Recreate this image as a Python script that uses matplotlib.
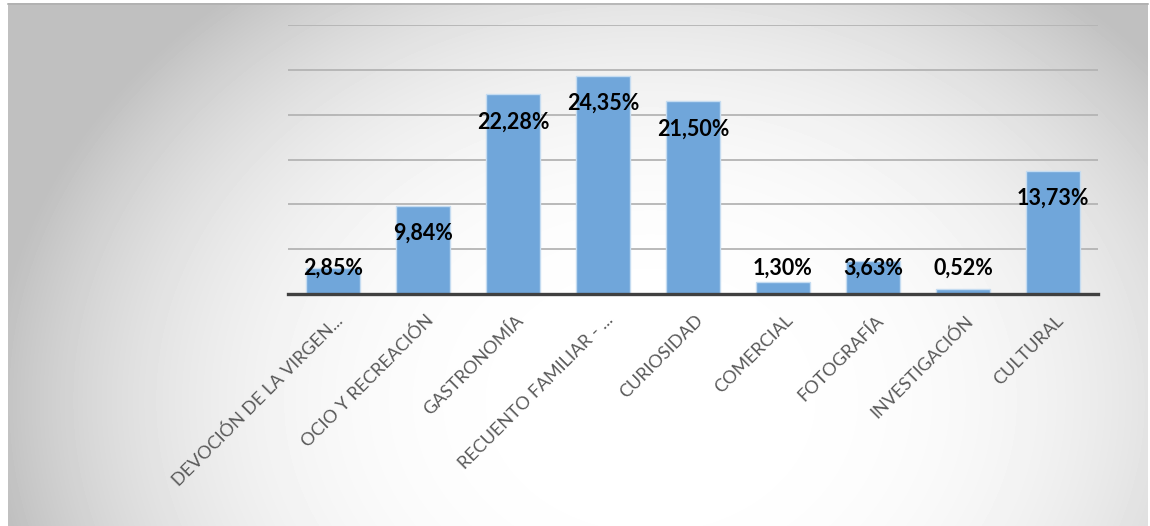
import matplotlib
matplotlib.use('Agg')
import matplotlib.pyplot as plt
import matplotlib.transforms as mtransforms
import numpy as np

categories = ["DEVOCIÓN DE LA VIRGEN...", "OCIO Y RECREACIÓN", "GASTRONOMÍA",
              "RECUENTO FAMILIAR - ...", "CURIOSIDAD", "COMERCIAL", "FOTOGRAFÍA",
              "INVESTIGACIÓN", "CULTURAL"]
values = [2.85, 9.84, 22.28, 24.35, 21.50, 1.30, 3.63, 0.52, 13.73]
grid_ticks = [5, 10, 15, 20, 25, 30]

plt.rcParams['font.family'] = ['Lato', 'DejaVu Sans']

W, H = 1150, 526
fig = plt.figure(figsize=(W / 100, H / 100), dpi=100)
fig.patch.set_facecolor('white')

# fondo con degradado radial (gris en los bordes, blanco en el centro)
bg = fig.add_axes([0, 0, 1, 1])
bx0, bx1, by0, by1 = 8, 1148, 3, 526
xx, yy = np.meshgrid(np.arange(bx0, bx1), np.arange(by0, by1))
cx, cy = 650, 400
d = np.sqrt(((xx - cx) / 650) ** 2 + ((yy - cy) / 520) ** 2)
g = np.clip(1.0 - 0.24 * d ** 3, 0.75, 1.0)
bg.imshow(g, cmap='gray', vmin=0, vmax=1, extent=(bx0, bx1, by1, by0),
          aspect='auto', interpolation='bilinear')
bg.plot([bx0, bx1], [by0 + 0.5, by0 + 0.5], color='#b0b0b0', lw=1.2)
bg.set_xlim(0, W)
bg.set_ylim(H, 0)
bg.axis('off')

ax = fig.add_axes([288 / W, 1 - 294 / H, 810 / W, 269 / H])
ax.patch.set_alpha(0)
x = np.arange(len(categories))
ax.bar(x, values, width=0.6, color='#70a6da', edgecolor='#c5dcf1', linewidth=1, zorder=3)
ax.set_xlim(-0.5, len(categories) - 0.5)
ax.set_ylim(0, 30)
ax.set_yticks(grid_ticks)
ax.yaxis.grid(True, color='#b4b4b4', linewidth=1.3, zorder=0)
ax.tick_params(axis='y', length=0, labelleft=False)
ax.tick_params(axis='x', length=0, pad=13)
for s in ['top', 'right', 'left']:
    ax.spines[s].set_visible(False)
ax.spines['bottom'].set_color('#404040')
ax.spines['bottom'].set_linewidth(2.4)
ax.spines['bottom'].set_zorder(4)

ax.set_xticks(x)
ax.set_xticklabels(categories, rotation=45, ha='right', va='top', rotation_mode='anchor',
                   fontsize=13, color='#595959')
shift = mtransforms.ScaledTranslation(2 / 100, 0, fig.dpi_scale_trans)
for lbl in ax.get_xticklabels():
    lbl.set_transform(lbl.get_transform() + shift)

for xi, v in zip(x, values):
    ax.text(xi, max(v - 3.1, 2.9), f"{v:.2f}%".replace('.', ','), ha='center', va='center',
            fontsize=15.5, fontweight='bold', color='black', zorder=5)

fig.savefig('out.png', dpi=100)
